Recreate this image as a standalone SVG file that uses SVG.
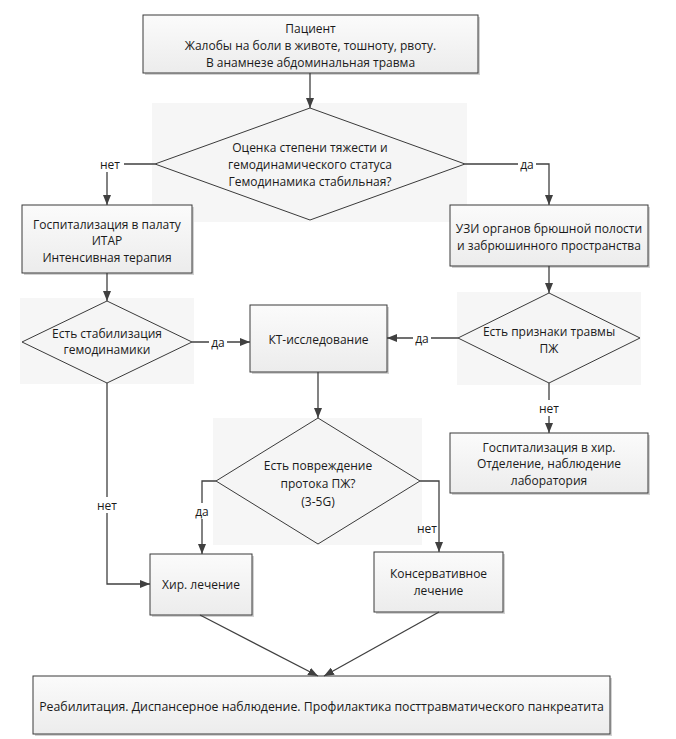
<svg xmlns="http://www.w3.org/2000/svg" width="676" height="739" viewBox="0 0 676 739">
<defs>
<linearGradient id="boxfill" x1="0" y1="0" x2="0" y2="1">
<stop offset="0" stop-color="#fbfbfb"/>
<stop offset="1" stop-color="#ececec"/>
</linearGradient>
<marker id="arr" markerWidth="10" markerHeight="8" refX="10" refY="4" orient="auto" markerUnits="userSpaceOnUse">
<path d="M0,0 L10,4 L0,8 z" fill="#404040"/>
</marker>
<style>
.box{fill:url(#boxfill);stroke:#3a3a3a;stroke-width:1}
.shadow{fill:#d2d2d2}
.bg{fill:#f6f6f6}
.dia{fill:#f5f5f5;stroke:#3a3a3a;stroke-width:1}
.t{font-family:"Open Sans","Noto Sans",sans-serif;font-size:12px;fill:#1a1a1a;text-anchor:middle;dominant-baseline:central}
.lbl{font-family:"Open Sans","Noto Sans",sans-serif;font-size:12px;fill:#1a1a1a;text-anchor:middle;dominant-baseline:central}
.c{fill:none;stroke:#404040;stroke-width:1.3}
.lb{fill:#ffffff}
</style>
</defs>
<rect width="676" height="739" fill="#ffffff"/>

<g id="n_patient">
<rect class="shadow" x="145" y="17" width="335" height="58"/>
<rect class="box" x="143" y="15" width="335" height="58"/>
<text class="t" x="310.5" y="28">Пациент</text>
<text class="t" x="310.5" y="45">Жалобы на боли в животе, тошноту, рвоту.</text>
<text class="t" x="310.5" y="62">В анамнезе абдоминальная травма</text>
</g>

<g id="n_assess">
<rect class="bg" x="152" y="103" width="315" height="119"/>
<polygon class="dia" points="310,108 465,164 310,220 155,164"/>
<text class="t" x="310" y="147">Оценка степени тяжести и</text>
<text class="t" x="310" y="164">гемодинамического статуса</text>
<text class="t" x="310" y="181">Гемодинамика стабильная?</text>
</g>

<g id="n_itar">
<rect class="shadow" x="24" y="207" width="170" height="68"/>
<rect class="box" x="22" y="205" width="170" height="68"/>
<text class="t" x="107" y="224">Госпитализация в палату</text>
<text class="t" x="107" y="240.5">ИТАР</text>
<text class="t" x="107" y="257">Интенсивная терапия</text>
</g>

<g id="n_stab">
<rect class="bg" x="20" y="298" width="174" height="86"/>
<polygon class="dia" points="107,301 192,342 107,383 22,342"/>
<text class="t" x="107" y="333">Есть стабилизация</text>
<text class="t" x="107" y="349.5">гемодинамики</text>
</g>

<g id="n_uzi">
<rect class="shadow" x="452" y="207" width="198" height="61"/>
<rect class="box" x="450" y="205" width="198" height="61"/>
<text class="t" x="549" y="228">УЗИ органов брюшной полости</text>
<text class="t" x="549" y="245">и забрюшинного пространства</text>
</g>

<g id="n_signs">
<rect class="bg" x="457" y="292" width="184" height="93"/>
<polygon class="dia" points="549,293 640,338 549,383 458,338"/>
<text class="t" x="549" y="331">Есть признаки травмы</text>
<text class="t" x="549" y="348">ПЖ</text>
</g>

<g id="n_kt">
<rect class="shadow" x="252" y="307" width="137" height="67"/>
<rect class="box" x="250" y="305" width="137" height="67"/>
<text class="t" x="318.5" y="339">КТ-исследование</text>
</g>

<g id="n_hosp">
<rect class="shadow" x="452" y="435" width="198" height="60"/>
<rect class="box" x="450" y="433" width="198" height="60"/>
<text class="t" x="549" y="447">Госпитализация в хир.</text>
<text class="t" x="549" y="463.5">Отделение, наблюдение</text>
<text class="t" x="549" y="480">лаборатория</text>
</g>

<g id="n_duct">
<rect class="bg" x="213" y="418" width="209" height="127"/>
<polygon class="dia" points="318,418 420,481 318,544 216,481"/>
<text class="t" x="318" y="465">Есть повреждение</text>
<text class="t" x="318" y="483">протока ПЖ?</text>
<text class="t" x="318" y="501">(3-5G)</text>
</g>

<g id="n_surg">
<rect class="shadow" x="152" y="556" width="102" height="61"/>
<rect class="box" x="150" y="554" width="102" height="61"/>
<text class="t" x="201" y="584">Хир. лечение</text>
</g>

<g id="n_cons">
<rect class="shadow" x="376" y="554" width="129" height="60"/>
<rect class="box" x="374" y="552" width="129" height="60"/>
<text class="t" x="438.5" y="573">Консервативное</text>
<text class="t" x="438.5" y="590">лечение</text>
</g>

<g id="n_rehab">
<rect class="shadow" x="35" y="678" width="577" height="58"/>
<rect class="box" x="33" y="676" width="577" height="58"/>
<text class="t" x="321.5" y="706" style="font-size:12.3px">Реабилитация. Диспансерное наблюдение. Профилактика посттравматического панкреатита</text>
</g>

<g id="connectors">
<path class="c" d="M310,73 V108" marker-end="url(#arr)"/>
<path class="c" d="M155,164 H107 V205" marker-end="url(#arr)"/>
<path class="c" d="M465,164 H549 V205" marker-end="url(#arr)"/>
<path class="c" d="M107,273 V301" marker-end="url(#arr)"/>
<path class="c" d="M192,342 H250" marker-end="url(#arr)"/>
<path class="c" d="M107,383 V584 H150" marker-end="url(#arr)"/>
<path class="c" d="M549,266 V293" marker-end="url(#arr)"/>
<path class="c" d="M458,338 H387" marker-end="url(#arr)"/>
<path class="c" d="M549,383 V433" marker-end="url(#arr)"/>
<path class="c" d="M318,372 V418" marker-end="url(#arr)"/>
<path class="c" d="M216,481 H202 V554" marker-end="url(#arr)"/>
<path class="c" d="M420,481 H439 V552" marker-end="url(#arr)"/>
<path class="c" d="M200,615 L318,676" marker-end="url(#arr)"/>
<path class="c" d="M439,612 L324,676" marker-end="url(#arr)"/>
<rect class="lb" x="96" y="156" width="28" height="16"/>
<text class="lbl" x="110" y="164">нет</text>
<rect class="lb" x="518" y="156" width="18" height="16"/>
<text class="lbl" x="527" y="164">да</text>
<rect class="lb" x="209" y="334" width="18" height="16"/>
<text class="lbl" x="218" y="342">да</text>
<rect class="lb" x="413" y="330" width="18" height="16"/>
<text class="lbl" x="422" y="338">да</text>
<rect class="lb" x="536" y="400" width="26" height="16"/>
<text class="lbl" x="549" y="408">нет</text>
<rect class="lb" x="94" y="497" width="26" height="16"/>
<text class="lbl" x="107" y="505">нет</text>
<rect class="lb" x="194" y="503" width="16" height="16"/>
<text class="lbl" x="202" y="511">да</text>
<text class="lbl" x="437" y="528" style="text-anchor:end">нет</text>
</g>
</svg>
